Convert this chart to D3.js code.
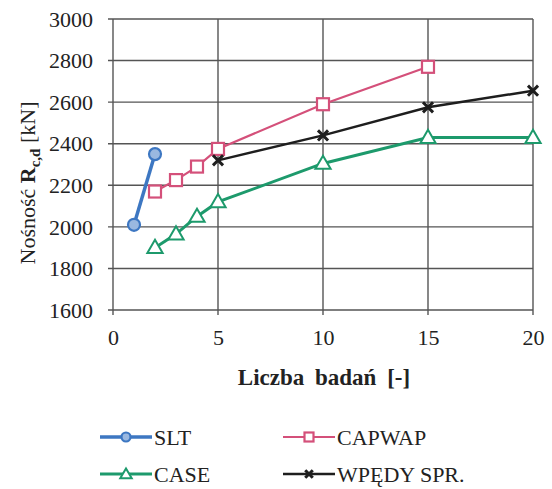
<!DOCTYPE html>
<html>
<head>
<meta charset="utf-8">
<script src="https://cdn.jsdelivr.net/npm/d3@7"></script>
<style>
  body { margin: 0; background: #fff; }
  text { font-family: "Liberation Serif", "DejaVu Serif", serif; fill: #222; }
</style>
</head>
<body>
<div id="chart"></div>
<script>

var sltX = [1, 2];
var sltY = [2010, 2350];
var capwapX = [2, 3, 4, 5, 10, 15];
var capwapY = [2170, 2225, 2290, 2375, 2590, 2770];
var caseX = [2, 3, 4, 5, 10, 15, 20];
var caseY = [1900, 1965, 2050, 2120, 2305, 2430, 2430];
var wpedyX = [5, 10, 15, 20];
var wpedyY = [2320, 2440, 2575, 2655];
var xTicks = [0, 5, 10, 15, 20];
var yTicks = [1600, 1800, 2000, 2200, 2400, 2600, 2800, 3000];

var width = 552, height = 489;
var margin = {top: 19, right: 19, bottom: 179, left: 113};
var w = width - margin.left - margin.right,
    h = height - margin.top - margin.bottom;

var svg = d3.select("#chart")
  .append("svg")
    .attr("width", width)
    .attr("height", height);

var g = svg.append("g")
    .attr("transform", "translate(" + margin.left + "," + margin.top + ")");

var x = d3.scaleLinear().domain([0, 20]).range([0, w]);
var y = d3.scaleLinear().domain([1600, 3000]).range([h, 0]);

// grid
g.selectAll(".hgrid").data(yTicks).enter().append("line")
  .attr("x1", -5).attr("x2", w)
  .attr("y1", function(d) { return y(d); }).attr("y2", function(d) { return y(d); })
  .attr("stroke", "#555").attr("stroke-width", 1.4);
g.selectAll(".vgrid").data(xTicks).enter().append("line")
  .attr("y1", 0).attr("y2", h + 5)
  .attr("x1", function(d) { return x(d); }).attr("x2", function(d) { return x(d); })
  .attr("stroke", "#555").attr("stroke-width", 1.4);

// axes (labels only)
var yAxis = d3.axisLeft(y).tickValues(yTicks).tickFormat(d3.format("d")).tickSize(0).tickPadding(20);
var xAxis = d3.axisBottom(x).tickValues(xTicks).tickFormat(d3.format("d")).tickSize(0).tickPadding(19);
g.append("g").call(yAxis).call(function(s) { s.select(".domain").remove(); })
  .selectAll("text").style("font-size", "22px").style("font-family", "Liberation Serif").attr("fill", "#222").attr("dy", "0.33em");
g.append("g").attr("transform", "translate(0," + h + ")").call(xAxis)
  .call(function(s) { s.select(".domain").remove(); })
  .selectAll("text").style("font-size", "22px").style("font-family", "Liberation Serif").attr("fill", "#222");

// axis titles
svg.append("text")
  .attr("x", 324).attr("y", 385)
  .attr("text-anchor", "middle")
  .style("font-size", "23px").style("font-weight", "bold").style("word-spacing", "5px")
  .text("Liczba badań [-]");

var yl = svg.append("text")
  .attr("transform", "translate(35," + 183 + ") rotate(-90)")
  .attr("text-anchor", "middle")
  .style("font-size", "22px");
yl.append("tspan").text("Nośność ");
yl.append("tspan").style("font-weight", "bold").text("R");
yl.append("tspan").attr("dy", 5).style("font-size", "15px").style("font-weight", "bold").text("c,d");
yl.append("tspan").attr("dy", -5).text(" [kN]");

var series = [
  {name: "SLT", xs: sltX, ys: sltY, color: "#3d77c2", marker: "circle", width: 3.5},
  {name: "CAPWAP", xs: capwapX, ys: capwapY, color: "#d4507a", marker: "square", width: 2.2},
  {name: "CASE", xs: caseX, ys: caseY, color: "#1d9a6c", marker: "triangle", width: 3},
  {name: "WPĘDY SPR.", xs: wpedyX, ys: wpedyY, color: "#1e1e1e", marker: "cross", width: 2.5}
];

function drawMarker(sel, type, color, cx, cy, s) {
  if (type === "circle") {
    sel.append("circle").attr("cx", cx).attr("cy", cy).attr("r", s * 0.5)
      .attr("fill", "#9ab8e0").attr("stroke", color).attr("stroke-width", 2.2);
  } else if (type === "square") {
    sel.append("rect").attr("x", cx - s / 2).attr("y", cy - s / 2).attr("width", s).attr("height", s)
      .attr("fill", "#fff").attr("stroke", color).attr("stroke-width", 2.2);
  } else if (type === "triangle") {
    sel.append("path").attr("d", d3.symbol(d3.symbolTriangle, s * s * 0.7)()).attr("transform", "translate(" + cx + "," + (cy + 1) + ")")
      .attr("fill", "#fff").attr("stroke", color).attr("stroke-width", 2);
  } else {
    var r = s * 0.42;
    sel.append("path").attr("d", "M" + (cx - r) + "," + (cy - r) + "L" + (cx + r) + "," + (cy + r) + "M" + (cx - r) + "," + (cy + r) + "L" + (cx + r) + "," + (cy - r))
      .attr("stroke", color).attr("stroke-width", 3);
  }
}

var line = d3.line().x(function(d) { return x(d[0]); }).y(function(d) { return y(d[1]); });

series.forEach(function(s) {
  var pts = s.xs.map(function(v, i) { return [v, s.ys[i]]; });
  g.append("path").datum(pts).attr("d", line)
    .attr("fill", "none").attr("stroke", s.color).attr("stroke-width", s.width);
  var mg = g.append("g");
  pts.forEach(function(p) { drawMarker(mg, s.marker, s.color, x(p[0]), y(p[1]), 12); });
});

// legend
var legPos = [[100, 437], [283, 437], [100, 474], [283, 474]];
series.forEach(function(s, i) {
  var lx = legPos[i][0], ly = legPos[i][1];
  var lg = svg.append("g");
  lg.append("line").attr("x1", lx).attr("x2", lx + 52).attr("y1", ly).attr("y2", ly)
    .attr("stroke", s.color).attr("stroke-width", s.width);
  drawMarker(lg, s.marker, s.color, lx + 26, ly, 9);
  lg.append("text").attr("x", lx + 54).attr("y", ly + 8)
    .style("font-size", "22px").text(s.name);
});

</script>
</body>
</html>
